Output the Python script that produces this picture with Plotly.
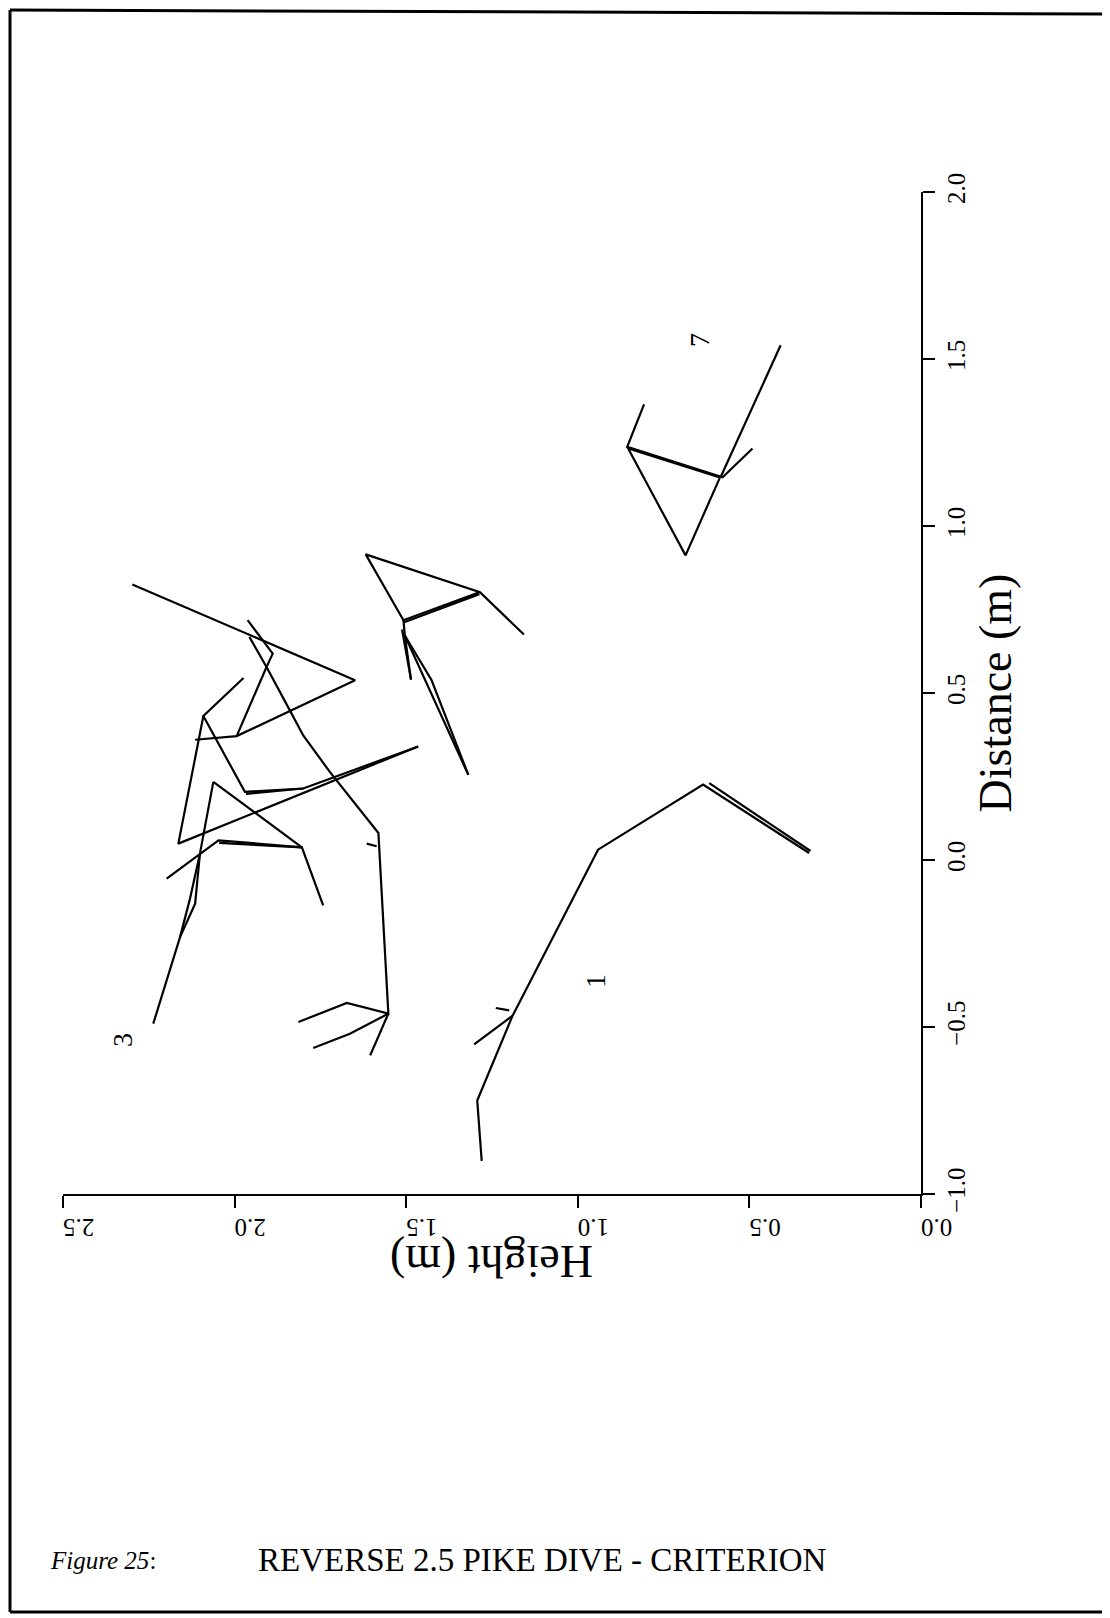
import plotly.graph_objects as go

# ---------------- data (Height in m, Distance in m) ----------------
# Frame 1 stick figure
fig1_height = [0.326, 0.635, 0.941, 1.190, 1.293, 1.280, None, 1.190, 1.302, None,
               0.617, 0.322, None, 1.239, 1.200]
fig1_distance = [0.021, 0.226, 0.031, -0.466, -0.720, -0.901, None, -0.466, -0.552, None,
                 0.230, 0.027, None, -0.443, -0.450]

# Frame 7 stick figure
fig7_height = [0.409, 0.583, None, 0.491, 0.578, 0.856, 0.807, None,
               0.856, 0.686, 0.586, None, 0.853, 0.586]
fig7_distance = [1.541, 1.148, None, 1.232, 1.146, 1.237, 1.364, None,
                 1.237, 0.912, 1.145, None, 1.232, 1.145]

# Frame 6 stick figure (A-shape)
fig6_height = [1.157, 1.285, 1.618, 1.508, 1.285, None, 1.508, 1.287, None,
               1.508, 1.504, 1.319, None, 1.504, 1.426, 1.319, None,
               1.504, 1.486, None, 1.512, 1.486]
fig6_distance = [0.675, 0.802, 0.915, 0.718, 0.802, None, 0.711, 0.796, None,
                 0.718, 0.672, 0.255, None, 0.672, 0.538, 0.255, None,
                 0.672, 0.540, None, 0.690, 0.540]

# Frames in the left cluster (long body)
figA_height = [2.298, 1.649, 1.994, 2.115, None, 1.994, 1.907, None,
               1.962, 1.889, 1.907, None,
               1.957, 1.907, 1.839, 1.800, 1.722, 1.635, 1.581, 1.552, 1.673, 1.814, None,
               1.552, 1.664, 1.771, None, 1.552, 1.605]
figA_distance = [0.825, 0.538, 0.371, 0.360, None, 0.371, 0.578, None,
                 0.718, 0.618, 0.578, None,
                 0.668, 0.578, 0.448, 0.373, 0.263, 0.149, 0.081, -0.460, -0.428, -0.485, None,
                 -0.460, -0.520, -0.563, None, -0.460, -0.585]

figB_height = [1.974, 2.091, 1.970, 1.800, 1.465, None, 2.091, 2.164, 1.465, None,
               1.967, 1.800, None, 1.615, 1.586]
figB_distance = [0.545, 0.431, 0.204, 0.214, 0.340, None, 0.431, 0.049, 0.340, None,
                 0.198, 0.214, None, 0.049, 0.041]

# Frame 3 stick figure
fig3_height = [2.198, 2.047, 1.804, 1.742, None, 2.062, 1.804, None,
               2.062, 2.101, 2.115, 2.159, 2.237, None, 2.101, 2.130, 2.159, None,
               2.045, 1.804]
fig3_distance = [-0.056, 0.059, 0.038, -0.136, None, 0.234, 0.038, None,
                 0.234, 0.019, -0.131, -0.231, -0.490, None, 0.019, -0.116, -0.231, None,
                 0.051, 0.038]

frame_labels = ["1", "3", "7"]
label_height = [0.948, 2.326, 0.646]
label_distance = [-0.363, -0.540, 1.558]

height_ticks = [0.0, 0.5, 1.0, 1.5, 2.0, 2.5]
distance_ticks = [-1.0, -0.5, 0.0, 0.5, 1.0, 1.5, 2.0]

FONT = "Liberation Serif"

fig = go.Figure()
for hx, dy in [(fig1_height, fig1_distance), (fig7_height, fig7_distance),
               (fig6_height, fig6_distance), (figA_height, figA_distance),
               (figB_height, figB_distance), (fig3_height, fig3_distance)]:
    fig.add_trace(go.Scatter(x=hx, y=dy, mode="lines",
                             line=dict(color="black", width=2.2),
                             connectgaps=False, showlegend=False, hoverinfo="skip"))

for t, hx, dy in zip(frame_labels, label_height, label_distance):
    fig.add_annotation(x=hx, y=dy, xref="x", yref="y", text=t, showarrow=False,
                       textangle=-90, font=dict(family=FONT, size=28, color="black"))

# page offset of the figure (body margin) and target plot area in page px
OFF = 8
FW, FH = 1110 - OFF, 1618 - OFF
L, R, T, B = 63, 921, 192, 1194
W, H = R - L, B - T
def px(x):
    return (x - L) / W
def py(y):
    return (B - y) / H

fig.add_annotation(x=0.5, y=py(1262), xref="paper", yref="paper", text="Height (m)",
                   showarrow=False, textangle=180, xanchor="center", yanchor="middle",
                   font=dict(family=FONT, size=46, color="black"))

fig.add_annotation(x=px(48), y=py(1560), xref="paper", yref="paper",
                   text="<i>Figure 25</i>:", showarrow=False, xanchor="left", yanchor="middle",
                   font=dict(family=FONT, size=25, color="black"))
fig.add_annotation(x=px(256), y=py(1560), xref="paper", yref="paper",
                   text="REVERSE 2.5 PIKE DIVE - CRITERION", showarrow=False,
                   xanchor="left", yanchor="middle",
                   font=dict(family=FONT, size=33, color="black"))

# page frame
frame = dict(type="line", xref="paper", yref="paper", line=dict(color="black", width=3))
fig.add_shape(x0=px(10), x1=px(10), y0=py(10), y1=py(1612), **frame)
fig.add_shape(x0=px(1106), x1=px(1106), y0=py(14), y1=py(1612), **frame)
fig.add_shape(x0=px(10), x1=px(1106), y0=py(10), y1=py(14), **frame)
fig.add_shape(x0=px(10), x1=px(1106), y0=py(1612), y1=py(1612), **frame)

fig.update_layout(
    width=FW, height=FH,
    margin=dict(l=L - OFF, r=FW - (R - OFF), t=T - OFF, b=FH - (B - OFF), pad=0),
    paper_bgcolor="white", plot_bgcolor="white",
    font=dict(family=FONT, color="black"),
    xaxis=dict(range=[2.5, 0], tickvals=height_ticks,
               ticktext=[f"{v:.1f}" for v in height_ticks],
               ticks="outside", ticklen=12, tickwidth=2, tickcolor="black",
               showline=True, linecolor="black", linewidth=2,
               showgrid=False, zeroline=False, tickangle=180,
               ticklabelstandoff=6,
               tickfont=dict(family=FONT, size=25, color="black"),
               automargin=False),
    yaxis=dict(range=[-1, 2], tickvals=distance_ticks,
               ticktext=[("\u2212" if v < 0 else "") + f"{abs(v):.1f}" for v in distance_ticks],
               side="right", ticks="outside", ticklen=12, tickwidth=2, tickcolor="black",
               showline=True, linecolor="black", linewidth=2,
               showgrid=False, zeroline=False, tickangle=-90,
               tickfont=dict(family=FONT, size=25, color="black"),
               title=dict(text="Distance (m)", font=dict(family=FONT, size=46, color="black"),
                          standoff=10),
               automargin=False),
)

fig.write_html("out.html")
